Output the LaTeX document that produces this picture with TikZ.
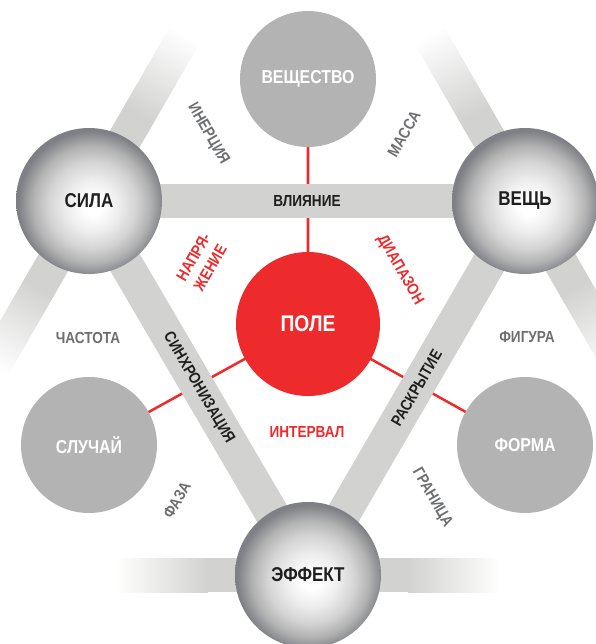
\documentclass[tikz,border=0pt]{standalone}
\usepackage{fontspec}
\newfontfamily\cond[FakeStretch=0.85]{Liberation Sans}
\usetikzlibrary{positioning,backgrounds}
\definecolor{barc}{HTML}{D2D2D1}
\definecolor{flatc}{HTML}{B3B3B3}
\definecolor{redc}{HTML}{ED2B2D}
\definecolor{labc}{HTML}{6D6E70}
\definecolor{inkc}{HTML}{1F1F20}
\definecolor{rimc}{HTML}{7E8085}
\pgfdeclareradialshading{sphereshade}{\pgfpoint{1.5bp}{-2bp}}{color(0bp)=(white); color(3bp)=(white); color(9bp)=(black!7); color(15bp)=(black!17); color(20bp)=(black!30); color(25bp)=(rimc); color(50bp)=(rimc)}

\begin{document}
\begin{tikzpicture}[x=0.75pt, y=-0.75pt,
  sphere/.style={circle, minimum size=109.5pt, inner sep=0pt, shade, shading=sphereshade, text=inkc, font=\cond\bfseries\fontsize{15}{15}\selectfont},
  flat/.style={circle, minimum size=102pt, inner sep=0pt, fill=flatc, text=white, font=\cond\bfseries\fontsize{14}{14}\selectfont},
  pole/.style={circle, minimum size=108pt, inner sep=0pt, fill=redc, text=white, font=\cond\bfseries\fontsize{17}{17}\selectfont},
  lab/.style={text=labc, font=\cond\bfseries\fontsize{12}{13}\selectfont},
  redlab/.style={text=redc, font=\cond\bfseries\fontsize{12}{15}\selectfont},
  barlab/.style={text=inkc, font=\cond\bfseries\fontsize{12}{12}\selectfont},
  bar/.style={draw=barc, line width=25.5pt},
  redline/.style={draw=redc, line width=1.9pt}]
\useasboundingbox (0,0) rectangle (596,644);

% circles
\node[sphere] (sila) at (89,201) {СИЛА};
\node[sphere] (veshch) at (525,201) {ВЕЩЬ};
\node[sphere] (effekt) at (308,575) {ЭФФЕКТ};
\node[flat] (veshchestvo) at (308,79) {ВЕЩЕСТВО};
\node[flat] (sluchai) at (89,445) {СЛУЧАЙ};
\node[flat] (forma) at (525,445) {ФОРМА};
\node[pole] (pole) at (308,324) {ПОЛЕ};

% side labels
\node[lab, rotate=-60] (inertsiya) at (208,134) {ИНЕРЦИЯ};
\node[lab, rotate=60] (massa) at (404,134) {МАССА};
\node[lab] (chastota) at (88,338) {ЧАСТОТА};
\node[lab] (figura) at (527,337) {ФИГУРА};
\node[lab, rotate=60] (faza) at (177,500) {ФАЗА};
\node[lab, rotate=-60] (granitsa) at (432,498) {ГРАНИЦА};
\node[redlab, rotate=60, align=left] (naprya) at (202,262) {НАПРЯ-\\ЖЕНИЕ};
\node[redlab, rotate=-60] (diapazon) at (400,270) {ДИАПАЗОН};
\node[redlab] (interval) at (307,432) {ИНТЕРВАЛ};

\begin{scope}[on background layer]
  \draw[redline] (pole.center) -- (veshchestvo.center)
                 (pole.center) -- (sluchai.center)
                 (pole.center) -- (forma.center);
  % fading stubs
  \foreach \n/\a in {sila/60, sila/240, veshch/120, veshch/-60, effekt/0, effekt/180}{
    \begin{scope}[transform canvas={shift={(\n.center)}, rotate=\a}]
      \fill[barc] (0,-17) rectangle (101,17);
      \shade[left color=barc, right color=white] (100,-17) rectangle (192,17);
    \end{scope}
  }
  \draw[bar] (sila.center) -- node[barlab] (vliyanie) {ВЛИЯНИЕ} (veshch.center);
  \draw[bar] (sila.center) -- node[barlab, sloped] (sinkhr) {СИНХРОНИЗАЦИЯ} (effekt.center);
  \draw[bar] (effekt.center) -- node[barlab, sloped] (raskr) {РАСКРЫТИЕ} (veshch.center);
\end{scope}
\end{tikzpicture}
\end{document}
